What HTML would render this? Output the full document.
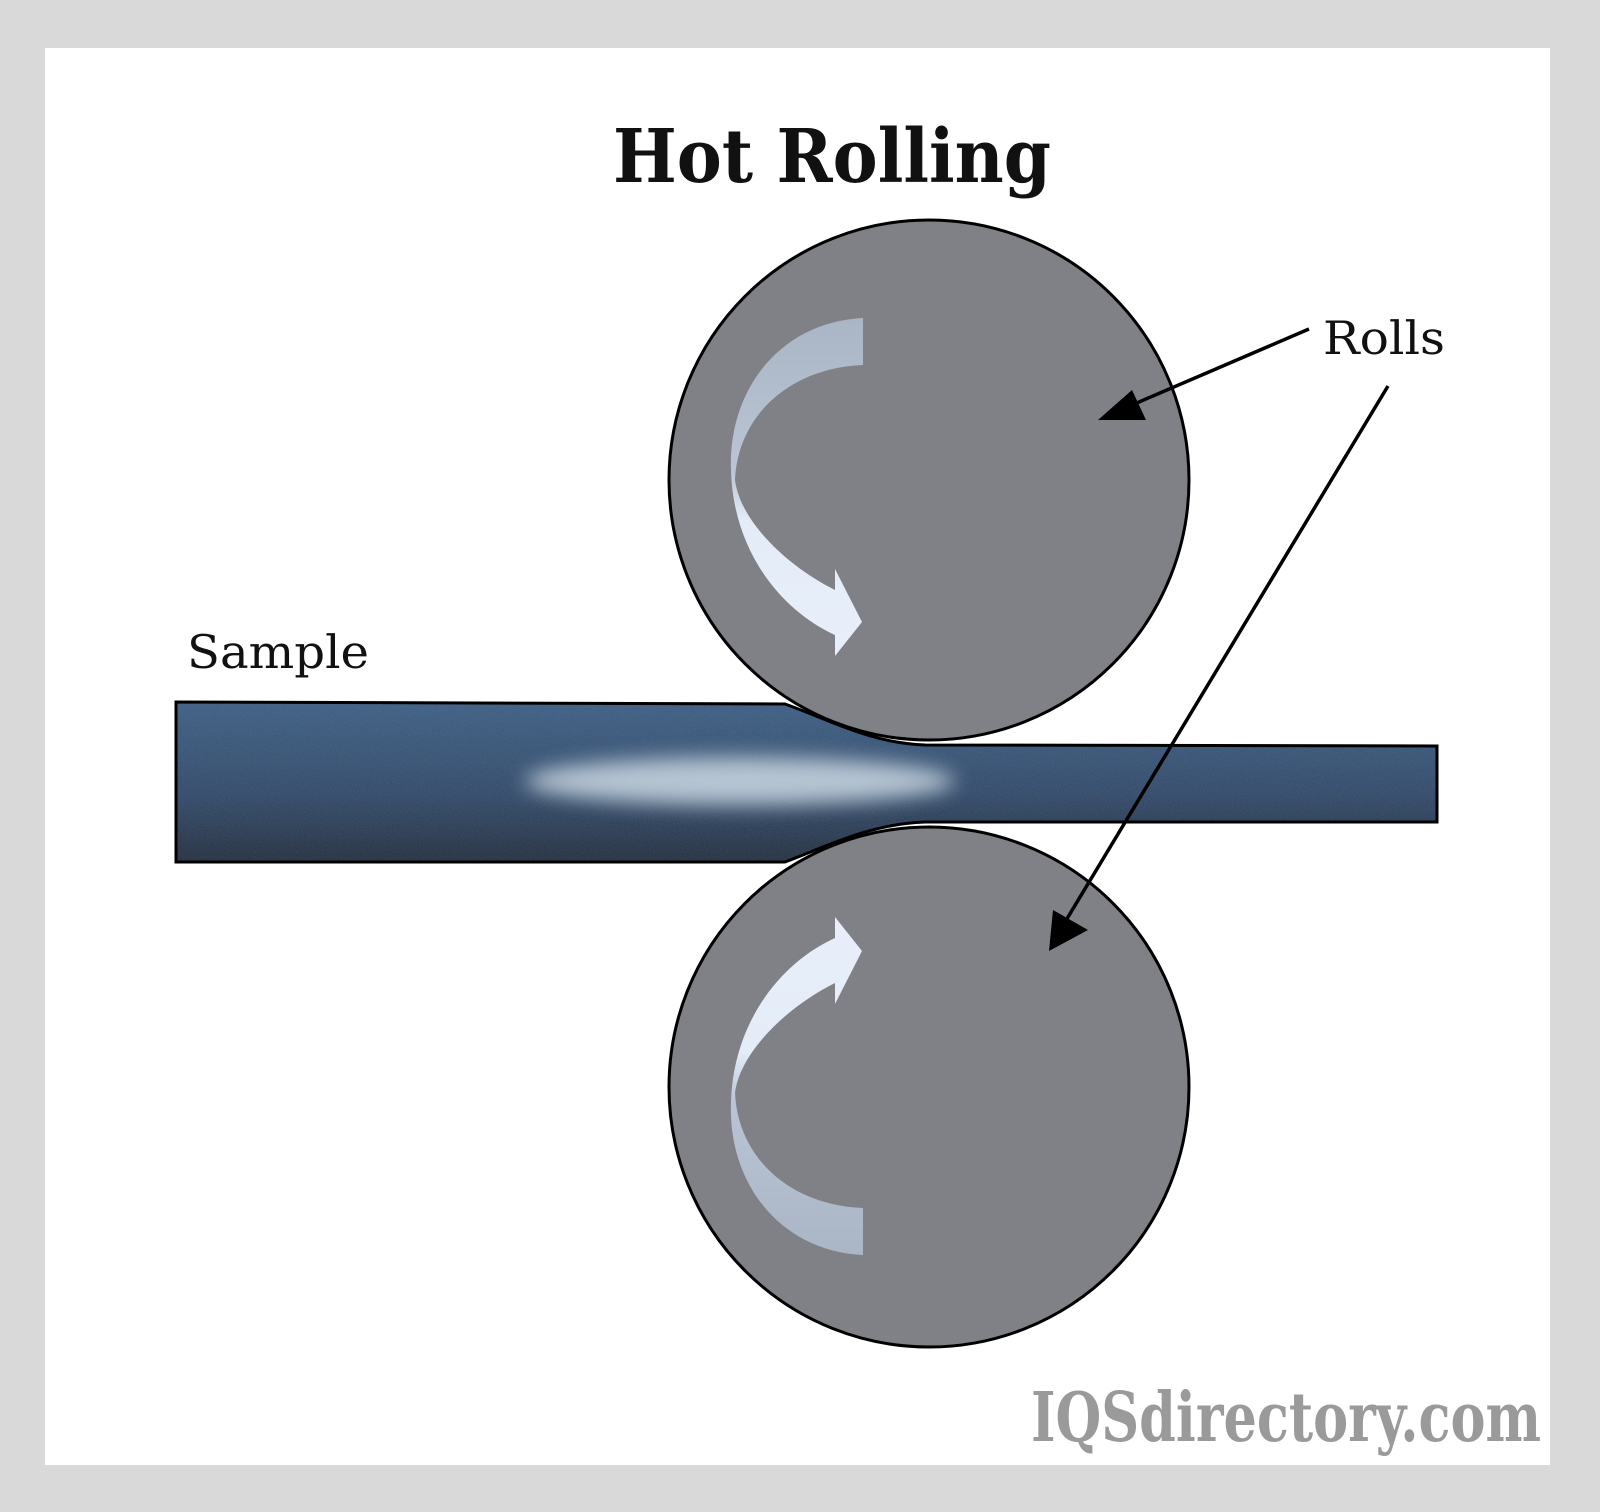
<!DOCTYPE html>
<html><head><meta charset="utf-8"><style>
html,body{margin:0;padding:0;background:#d9d9d9;}
svg{display:block}
</style></head><body>
<svg width="1600" height="1512" viewBox="0 0 1600 1512" xmlns="http://www.w3.org/2000/svg">
<defs>
<linearGradient id="blue" x1="0" y1="0" x2="0" y2="1">
<stop offset="0" stop-color="#3a5c82"/>
<stop offset="0.55" stop-color="#2e4666"/>
<stop offset="1" stop-color="#1e2736"/>
</linearGradient>
<linearGradient id="arr" x1="0" y1="0" x2="0" y2="1">
<stop offset="0" stop-color="#aab5c6"/>
<stop offset="0.45" stop-color="#b9c4d4"/>
<stop offset="0.6" stop-color="#e4ecf8"/>
<stop offset="1" stop-color="#e8effa"/>
</linearGradient>
<filter id="blur" x="-50%" y="-200%" width="200%" height="500%"><feGaussianBlur stdDeviation="10"/></filter>
<filter id="tex"><feTurbulence type="fractalNoise" baseFrequency="0.9" numOctaves="2" result="n"/><feColorMatrix in="n" type="matrix" values="0 0 0 0 0.5  0 0 0 0 0.6  0 0 0 0 0.7  0 0 0 0.18 0"/><feComposite in2="SourceGraphic" operator="in"/></filter>
<clipPath id="sclip"><path d="M176,702 L785,704 C830,720 870,743 925,745 L1437,746 L1437,822 L925,822 C870,824 830,845 785,862 L176,862 Z"/></clipPath>
</defs>
<rect x="45" y="48" width="1505" height="1417" fill="#ffffff"/>
<text x="832" y="182" text-anchor="middle" font-family="'DejaVu Serif','Liberation Serif',serif" font-weight="bold" font-size="74" fill="#111" textLength="438" lengthAdjust="spacingAndGlyphs">Hot Rolling</text>

<g clip-path="url(#sclip)">
<rect x="170" y="695" width="1275" height="175" fill="url(#blue)"/>
<ellipse cx="740" cy="781" rx="215" ry="24" fill="#c4d2de" filter="url(#blur)" opacity="0.9"/>
<rect x="170" y="695" width="1275" height="175" fill="#fff" filter="url(#tex)"/>
</g>
<path d="M176,702 L785,704 C830,720 870,743 925,745 L1437,746 L1437,822 L925,822 C870,824 830,845 785,862 L176,862 Z" fill="none" stroke="#000" stroke-width="3"/>

<circle cx="929" cy="480" r="260" fill="#808186" stroke="#000" stroke-width="3"/>
<circle cx="929" cy="1087" r="260" fill="#808186" stroke="#000" stroke-width="3"/>

<path d="M863,318 C780,322 728,390 731,470 C733,550 780,610 835,635 L835,656 L862,622 L835,569 L835,590 C785,565 740,520 735,480 C738,415 790,368 863,365 Z" fill="url(#arr)"/>
<g transform="translate(0,1573) scale(1,-1)">
<path d="M863,318 C780,322 728,390 731,470 C733,550 780,610 835,635 L835,656 L862,622 L835,569 L835,590 C785,565 740,520 735,480 C738,415 790,368 863,365 Z" fill="url(#arr)"/>
</g>

<text x="187" y="668" font-family="'DejaVu Serif','Liberation Serif',serif" font-size="46" fill="#111" textLength="182" lengthAdjust="spacingAndGlyphs">Sample</text>
<text x="1323" y="354" font-family="'DejaVu Serif','Liberation Serif',serif" font-size="46" fill="#111" textLength="122" lengthAdjust="spacingAndGlyphs">Rolls</text>

<line x1="1309" y1="329" x2="1125" y2="408" stroke="#000" stroke-width="3.5"/>
<polygon points="1098,420 1132,390 1146,420" fill="#000"/>
<line x1="1388" y1="386" x2="1065" y2="922" stroke="#000" stroke-width="3.5"/>
<polygon points="1049,951 1053,910 1088,930" fill="#000"/>

<text x="1541" y="1441" text-anchor="end" font-family="'DejaVu Serif','Liberation Serif',serif" font-weight="bold" font-size="68" fill="#9a9a9a" textLength="510" lengthAdjust="spacingAndGlyphs">IQSdirectory.com</text>
</svg>
</body></html>
